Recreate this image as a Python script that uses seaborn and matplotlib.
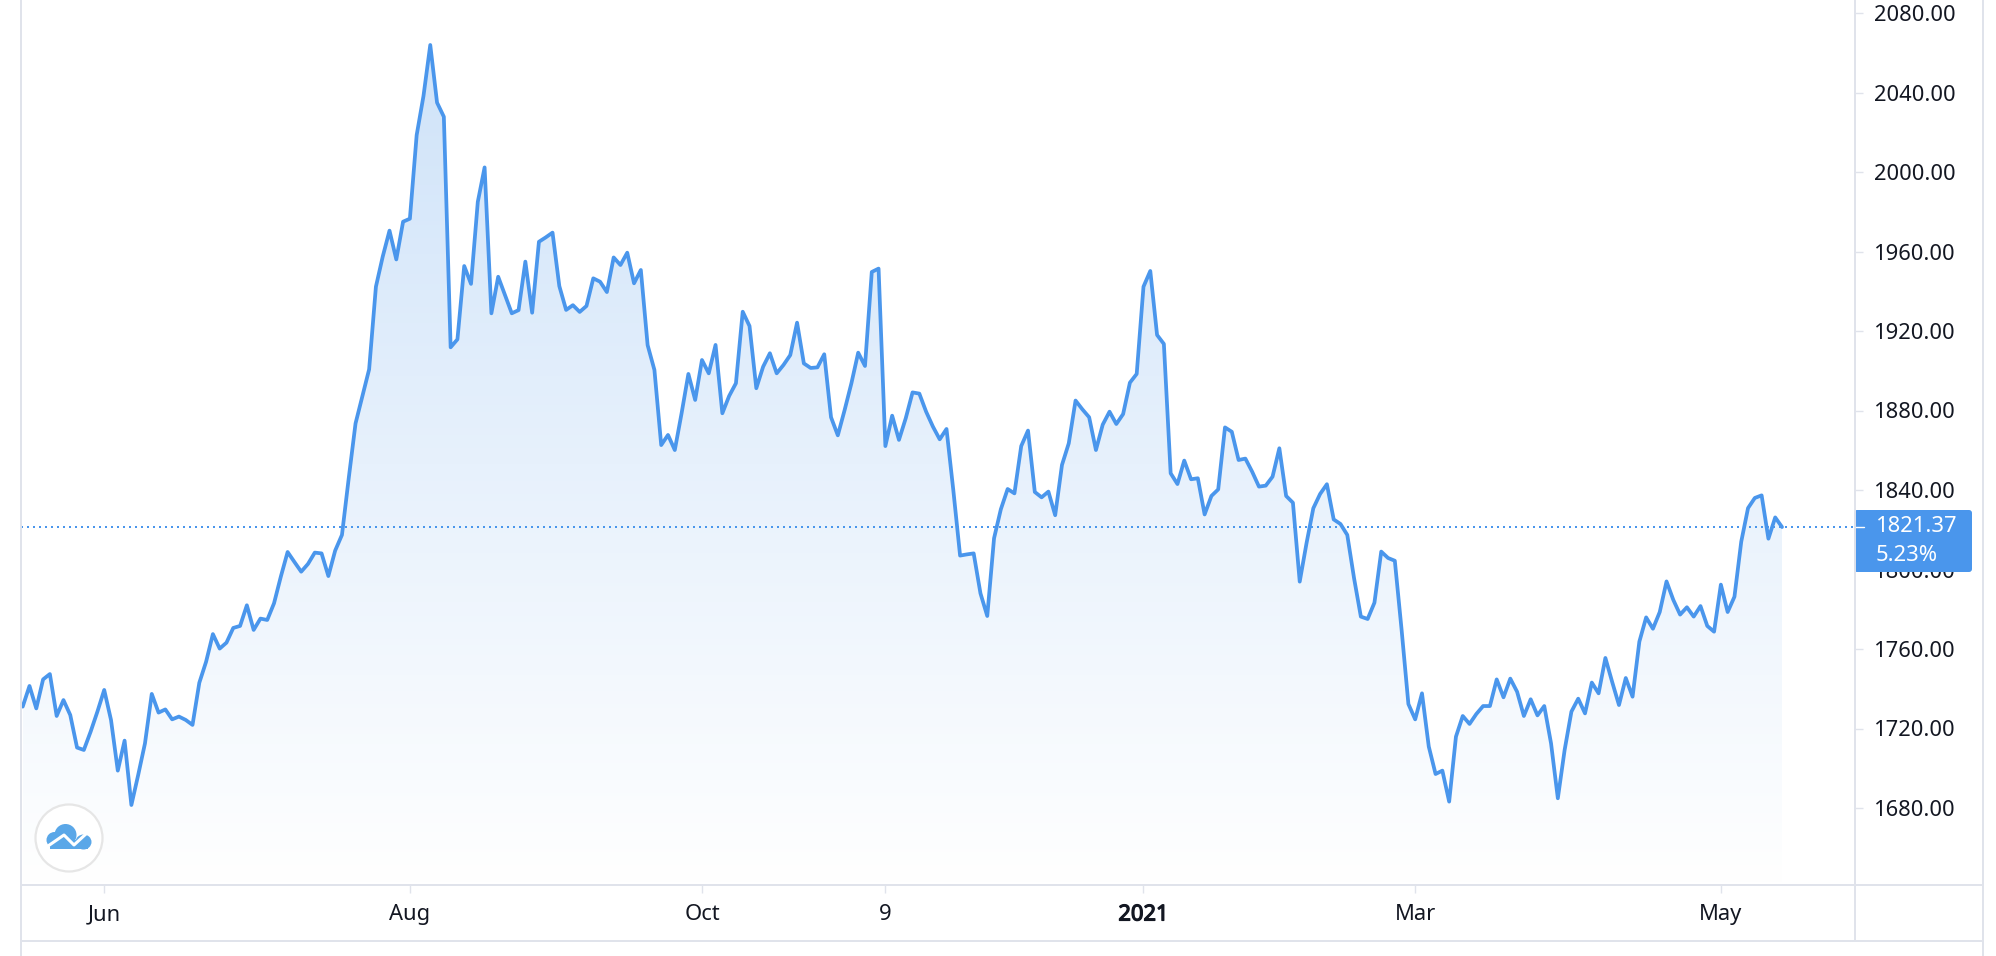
import numpy as np
import matplotlib
matplotlib.use('Agg')
import matplotlib.pyplot as plt
import matplotlib.patheffects as pe
import seaborn as sns
from matplotlib.lines import Line2D
from matplotlib.patches import Circle, Ellipse, FancyBboxPatch, Rectangle
from matplotlib.transforms import Affine2D

# daily gold price
prices = [
    1731.0, 1741.4, 1730.1, 1744.7, 1747.4, 1726.3, 1734.3, 1726.8, 1710.4, 1709.2,
    1718.4, 1728.5, 1739.4, 1724.3, 1698.8, 1713.9, 1681.5, 1696.6, 1712.5, 1737.4,
    1728.0, 1729.6, 1724.6, 1726.0, 1724.3, 1721.8, 1743.0, 1753.6, 1767.5, 1760.2,
    1763.2, 1770.6, 1771.6, 1782.0, 1769.6, 1775.3, 1774.6, 1783.0, 1796.4, 1808.8,
    1803.8, 1798.9, 1802.8, 1808.5, 1808.1, 1796.7, 1809.5, 1817.4,
    1846.0, 1873.5, 1887.0, 1900.7, 1942.3, 1957.4, 1970.5, 1956.0, 1975.0, 1976.5,
    2018.6, 2038.2, 2063.9, 2034.9, 2027.8, 1911.8, 1915.8, 1952.7, 1943.7, 1985.0,
    2002.3, 1928.9, 1947.3, 1938.1, 1928.9, 1930.5, 1954.9, 1929.2, 1964.9, 1967.1,
    1969.5, 1942.6, 1930.6, 1933.0, 1929.6, 1932.6, 1946.5, 1944.8, 1939.6, 1957.0,
    1953.2, 1959.4, 1944.0, 1950.7, 1912.9, 1900.4,
    1862.6, 1867.7, 1860.1, 1878.6, 1898.4, 1885.3, 1905.4, 1898.7, 1913.0, 1878.6,
    1887.3, 1893.7, 1929.7, 1922.5, 1891.2, 1902.0, 1908.8, 1898.7, 1902.9, 1907.9,
    1924.2, 1903.7, 1901.4, 1901.7, 1908.3, 1876.6, 1867.5, 1880.2, 1893.7, 1909.1,
    1902.4, 1949.7, 1951.4, 1862.1, 1877.4, 1865.2, 1876.1, 1889.1, 1888.5, 1879.4,
    1871.9, 1865.5, 1870.7, 1840.0,
    1807.0, 1807.6, 1808.1, 1788.0, 1776.6, 1815.7, 1830.3, 1840.5, 1838.3, 1862.1,
    1869.9, 1839.0, 1836.3, 1839.2, 1827.3, 1852.6, 1863.5, 1885.0, 1880.6, 1876.6,
    1860.1, 1872.9, 1879.4, 1873.2, 1878.2, 1894.0, 1898.4, 1942.3, 1950.2, 1918.0,
    1913.5, 1848.4, 1843.0, 1854.8, 1845.4, 1845.9, 1827.7, 1837.0, 1840.3, 1871.5,
    1869.3, 1855.1, 1855.8, 1849.2, 1841.7, 1842.2, 1846.7, 1861.0, 1837.0, 1833.6,
    1793.9, 1813.2, 1830.8, 1838.0, 1842.9, 1825.2, 1822.9, 1817.4, 1795.6, 1776.3,
    1775.1, 1783.3, 1809.0, 1805.8, 1804.4, 1769.6, 1732.3, 1724.6, 1737.7, 1710.9,
    1697.1, 1698.8, 1683.2, 1715.9, 1726.3, 1722.3, 1727.3, 1731.3, 1731.3, 1744.7,
    1735.7, 1745.1, 1738.5, 1726.3, 1734.7, 1726.6, 1731.3, 1712.5, 1684.9, 1709.2,
    1728.5, 1735.0, 1727.6,
    1743.1, 1737.7, 1755.5, 1743.4, 1731.8, 1745.4, 1736.0, 1763.7, 1775.9, 1770.2,
    1778.6, 1794.0, 1784.7, 1777.3, 1781.0, 1776.3, 1781.6, 1771.6, 1768.7, 1792.4,
    1778.6, 1786.3, 1814.0, 1830.9, 1836.0, 1837.3, 1815.5, 1826.2, 1821.37,
]
last_price = 1821.37
last_change = '5.23%'
y_ticks = [1680, 1720, 1760, 1800, 1840, 1880, 1920, 1960, 2000, 2040, 2080]
x_tick_days = [12, 57, 100, 127, 165, 205, 250]
x_tick_labels = ['Jun', 'Aug', 'Oct', '9', '2021', 'Mar', 'May']

BLUE = '#4a96ec'
GRID = '#e0e3eb'
TEXT = '#131722'

sns.set_theme(style='white')
plt.rcParams['font.family'] = ['Noto Sans', 'DejaVu Sans']

days = np.arange(len(prices))

W, H = 1996, 956
fig = plt.figure(figsize=(W / 100, H / 100), dpi=100)
ax = fig.add_axes([21 / W, 1 - 885 / H, (1855 - 21) / W, 885 / H])

# pixel coordinates of the screenshot, for the frame and the badge
px = Affine2D().scale(1 / W, -1 / H).translate(0, 1) + fig.transFigure

step = (1782 - 22.7) / (len(prices) - 1)
xlim = ((21 - 22.7) / step, (1855 - 22.7) / step)
ylim = (1680 - 77 / 1.9875, 1680 + 808 / 1.9875)

# gradient under the line
poly = ax.fill_between(days, prices, ylim[0], color='none', lw=0)
shade = np.linspace(0, 1, 256).reshape(-1, 1)
cmap = sns.blend_palette(['#cfe3f9', '#ffffff'], as_cmap=True)
img = ax.imshow(shade, cmap=cmap, aspect='auto', zorder=1,
                extent=(days[0], days[-1], ylim[0], max(prices)), origin='upper')
img.set_clip_path(poly.get_paths()[0], ax.transData)

ax.axhline(last_price, color=BLUE, lw=1.44, ls=(0, (1, 2)), zorder=2)
sns.lineplot(x=days, y=prices, ax=ax, color=BLUE, linewidth=2.7, zorder=3, estimator=None)

ax.set_xlim(xlim)
ax.set_ylim(ylim)

for s in ax.spines.values():
    s.set_visible(False)
ax.spines['bottom'].set_visible(True)
ax.spines['bottom'].set_color(GRID)
ax.spines['bottom'].set_linewidth(1.4)

ax.yaxis.tick_right()
ax.set_yticks(y_ticks)
ax.set_yticklabels([f'{v:.2f}' for v in y_ticks])
ax.set_xticks(x_tick_days)
ax.set_xticklabels(x_tick_labels)
ax.tick_params(axis='y', length=6, width=1, color=GRID, labelcolor=TEXT,
               labelsize=15.8, pad=8, right=True)
ax.tick_params(axis='x', length=6, width=1, color=GRID, labelcolor=TEXT,
               labelsize=15.8, pad=8, bottom=True)
for lab, day in zip(ax.get_xticklabels(), x_tick_labels):
    if day == '2021':
        # no bold face in the font list here, so thicken the year with a stroke
        lab.set_path_effects([pe.withStroke(linewidth=0.9, foreground=TEXT)])

# frame lines outside the plot area
frame = [([21, 21], [0, 956]), ([1855, 1855], [0, 941]),
         ([1983, 1983], [0, 956]), ([21, 1983], [941, 941]), ([1855, 1983], [885, 885])]
for xs, ys in frame:
    fig.add_artist(Line2D(xs, ys, transform=px, color=GRID, lw=1.4))

# price badge
badge = FancyBboxPatch((1854, 510), 118, 62, boxstyle='round,pad=0,rounding_size=3',
                       transform=px, fc=BLUE, ec='none', clip_on=False, zorder=6)
ax.add_patch(badge)
fig_text = dict(transform=px, color='white', fontsize=15.8, va='center', ha='left', zorder=7)
ax.text(1876, 527, f'{last_price:.2f}', clip_on=False, **fig_text)
ax.text(1876, 556, last_change, clip_on=False, **fig_text)
ax.add_line(Line2D([1855, 1864], [527, 527], transform=px, color='white', lw=1,
                   clip_on=False, zorder=7))

# logo, bottom left
LOGO = '#5aa7e8'
ax.add_patch(Circle((69, 838), 33.5, transform=px, fc='white', ec='#e6e6e6', lw=1.6, zorder=4))
for cx, cy, rx, ry in [(65.5, 835, 11, 11), (54.5, 840, 8, 8), (83.5, 842, 8, 7.5)]:
    ax.add_patch(Ellipse((cx, cy), rx * 2, ry * 2, transform=px, fc=LOGO, ec='none', zorder=5))
ax.add_patch(Rectangle((50, 840), 38, 9.5, transform=px, fc=LOGO, ec='none', zorder=5))
ax.add_line(Line2D([48, 64, 74, 87], [846, 835, 845, 833], transform=px, color='white',
                   lw=2.2, zorder=5.5))

fig.savefig('out.png', dpi=100)
